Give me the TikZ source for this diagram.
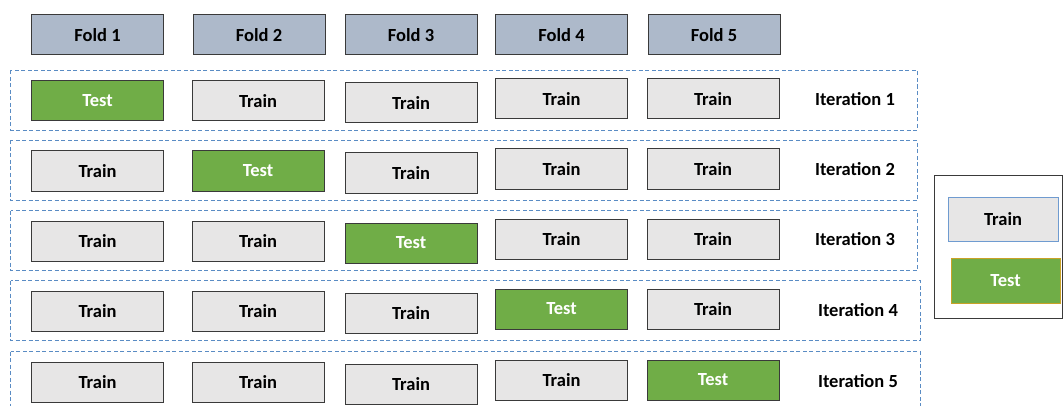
\documentclass[tikz,border=0pt]{standalone}
\usepackage{fontspec}
\setmainfont{Carlito}
\usepackage{xcolor}
\definecolor{foldblue}{HTML}{ADB9CA}
\definecolor{testgreen}{HTML}{70AD47}
\definecolor{traingray}{HTML}{E7E6E6}
\definecolor{edgegray}{HTML}{3A3A3A}
\definecolor{dashblue}{HTML}{5A8CC4}
\definecolor{keyblue}{HTML}{6F9BD0}
\definecolor{legendgold}{HTML}{C9A227}
\tikzset{
  cell/.style={draw=edgegray, line width=1pt, minimum width=132pt, minimum height=40pt,
    inner sep=0pt, font=\fontsize{18.5}{22}\selectfont\bfseries},
  foldbox/.style={cell, fill=foldblue, text=black},
  trainbox/.style={cell, fill=traingray, text=black},
  testbox/.style={cell, fill=testgreen, text=white},
  rowframe/.style={draw=dashblue, line width=0.9pt, dash pattern=on 4pt off 2.5pt},
  iterlabel/.style={font=\fontsize{18.5}{22}\selectfont\bfseries, text=black, inner sep=0pt}
}
\begin{document}
\begin{tikzpicture}[x=1pt,y=-1pt]
                \useasboundingbox (0,0) rectangle (1064,406);
                % Fold header
                \node[foldbox] (fold1) at (97.5,35) {Fold 1};
                \node[foldbox] (fold2) at (259,35) {Fold 2};
                \node[foldbox] (fold3) at (411,35) {Fold 3};
                \node[foldbox] (fold4) at (561.5,35) {Fold 4};
                \node[foldbox] (fold5) at (714,35) {Fold 5};

                % Row frames
                \draw[rowframe] (10.5,70.5) rectangle (917,130);
                \draw[rowframe] (10.5,140.5) rectangle (917,200.5);
                \draw[rowframe] (10.5,210.5) rectangle (917,270.5);
                \draw[rowframe] (10.5,280.5) rectangle (920,340.5);
                \draw[rowframe] (10.5,351.5) rectangle (920,412);

                % Iteration 1
                \node[testbox]  (r1c1) at (97.5,101) {Test};
                \node[trainbox] (r1c2) at (258,101) {Train};
                \node[trainbox] (r1c3) at (411,103) {Train};
                \node[trainbox] (r1c4) at (561.5,99) {Train};
                \node[trainbox] (r1c5) at (713,99) {Train};
                \node[iterlabel] (it1) at (855,99) {Iteration 1};
                % Iteration 2
                \node[trainbox] (r2c1) at (97.5,171) {Train};
                \node[testbox]  (r2c2) at (258,171) {Test};
                \node[trainbox] (r2c3) at (411,173) {Train};
                \node[trainbox] (r2c4) at (561.5,169) {Train};
                \node[trainbox] (r2c5) at (713,169) {Train};
                \node[iterlabel] (it2) at (855,169) {Iteration 2};
                % Iteration 3
                \node[trainbox] (r3c1) at (97.5,241) {Train};
                \node[trainbox] (r3c2) at (258,241) {Train};
                \node[testbox]  (r3c3) at (411,243) {Test};
                \node[trainbox] (r3c4) at (561.5,239) {Train};
                \node[trainbox] (r3c5) at (713,239) {Train};
                \node[iterlabel] (it3) at (855,239) {Iteration 3};
                % Iteration 4
                \node[trainbox] (r4c1) at (97.5,311) {Train};
                \node[trainbox] (r4c2) at (258,311) {Train};
                \node[trainbox] (r4c3) at (411,313) {Train};
                \node[testbox]  (r4c4) at (561.5,309) {Test};
                \node[trainbox] (r4c5) at (713,309) {Train};
                \node[iterlabel] (it4) at (858,310) {Iteration 4};
                % Iteration 5
                \node[trainbox] (r5c1) at (97.5,382) {Train};
                \node[trainbox] (r5c2) at (258,382) {Train};
                \node[trainbox] (r5c3) at (411,384) {Train};
                \node[trainbox] (r5c4) at (561.5,380) {Train};
                \node[testbox]  (r5c5) at (713,380) {Test};
                \node[iterlabel] (it5) at (858,381) {Iteration 5};

                % Legend
                \draw[edgegray, line width=1pt] (934,175) rectangle (1062,318);
                \node[trainbox, draw=keyblue, minimum width=110pt, minimum height=44pt] (keytrain) at (1003,219) {Train};
                \node[testbox, draw=legendgold, minimum width=109pt, minimum height=45pt] (keytest) at (1005.5,280.5) {Test};
            \end{tikzpicture}
\end{document}
